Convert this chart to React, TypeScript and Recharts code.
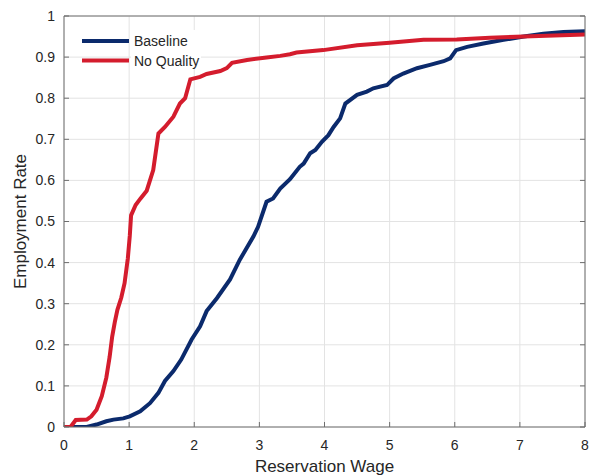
import React from 'react';
import { LineChart, Line, XAxis, YAxis, CartesianGrid } from 'recharts';

const baselineX = [0, 0.35, 0.5, 0.65, 0.76, 0.91, 1.01, 1.17, 1.32, 1.45, 1.55, 1.68, 1.8, 1.96, 2.09, 2.19, 2.35, 2.55, 2.7, 2.91, 2.98, 3.11, 3.21, 3.32, 3.47, 3.62, 3.68, 3.78, 3.86, 3.96, 4.06, 4.14, 4.24, 4.32, 4.5, 4.65, 4.75, 4.96, 5.06, 5.21, 5.42, 5.62, 5.83, 5.93, 6.02, 6.19, 6.44, 6.75, 7.06, 7.36, 7.67, 8];
const baselineY = [0, 0, 0.006, 0.014, 0.018, 0.021, 0.026, 0.038, 0.058, 0.083, 0.112, 0.136, 0.164, 0.213, 0.245, 0.282, 0.314, 0.359, 0.407, 0.464, 0.487, 0.548, 0.556, 0.58, 0.603, 0.633, 0.641, 0.666, 0.674, 0.694, 0.71, 0.73, 0.751, 0.787, 0.808, 0.816, 0.824, 0.832, 0.848, 0.86, 0.873, 0.881, 0.89, 0.897, 0.917, 0.925, 0.933, 0.942, 0.95, 0.957, 0.961, 0.963];

const noQualityX = [0, 0.1, 0.18, 0.35, 0.42, 0.5, 0.58, 0.65, 0.7, 0.74, 0.78, 0.82, 0.88, 0.93, 0.98, 1.01, 1.03, 1.1, 1.17, 1.27, 1.37, 1.45, 1.55, 1.68, 1.78, 1.86, 1.94, 2.09, 2.19, 2.4, 2.5, 2.58, 2.81, 3.11, 3.32, 3.47, 3.57, 3.98, 4.5, 5.0, 5.52, 6.03, 6.54, 7.06, 8];
const noQualityY = [0, 0, 0.017, 0.018, 0.026, 0.042, 0.075, 0.12, 0.17, 0.22, 0.255, 0.285, 0.315, 0.35, 0.41, 0.465, 0.515, 0.54, 0.555, 0.575, 0.625, 0.714, 0.73, 0.755, 0.787, 0.8, 0.846, 0.852, 0.859, 0.866, 0.873, 0.886, 0.893, 0.899, 0.903, 0.907, 0.911, 0.917, 0.929, 0.935, 0.942, 0.943, 0.947, 0.95, 0.955];

const xTicks = [0, 1, 2, 3, 4, 5, 6, 7, 8];
const yTicks = [0, 0.1, 0.2, 0.3, 0.4, 0.5, 0.6, 0.7, 0.8, 0.9, 1];
const seriesNames = ['Baseline', 'No Quality'];

const baselineData = baselineX.map((x, i) => ({ x, y: baselineY[i] }));
const noQualityData = noQualityX.map((x, i) => ({ x, y: noQualityY[i] }));

const BLUE = '#0b2a6c';
const RED = '#d41c2d';
const AXIS = '#6e6e6e';
const TEXT = '#262626';
const FONT = '"Liberation Sans", Arial, Helvetica, sans-serif';

const LegendBox = () => (
  <svg width={130} height={40} style={{ display: 'block' }}>
    <rect x={49} y={0} width={70} height={38} fill="#fff" />
    <line x1={0} y1={11} x2={47} y2={11} stroke={BLUE} strokeWidth={4} />
    <text x={52} y={16} fontSize={14} fill={TEXT} fontFamily={FONT}>{seriesNames[0]}</text>
    <line x1={0} y1={30.5} x2={47} y2={30.5} stroke={RED} strokeWidth={4} />
    <text x={52} y={35.5} fontSize={14} fill={TEXT} fontFamily={FONT}>{seriesNames[1]}</text>
  </svg>
);

export default function App() {
  const tickStyle = { fontSize: 14, fill: TEXT, fontFamily: FONT };
  return (
    <div style={{ position: 'absolute', left: 0, top: 0, width: 590, height: 476, background: '#fff' }}>
      <LineChart width={590} height={476} margin={{ top: 0, right: 0, bottom: 0, left: 0 }}>
        <CartesianGrid stroke="#e3e3e3" strokeWidth={1} xAxisId="x" yAxisId="y" horizontalValues={yTicks} verticalValues={xTicks} />
        <XAxis
          xAxisId="x"
          dataKey="x"
          type="number"
          domain={[0, 8]}
          ticks={xTicks}
          height={49}
          allowDataOverflow
          stroke={AXIS}
          tickSize={-5}
          tickMargin={18}
          tick={tickStyle}
          label={{ value: 'Reservation Wage', position: 'insideBottom', offset: 4, style: { fontSize: 17, fill: TEXT, fontFamily: FONT } }}
        />
        <XAxis
          xAxisId="top"
          orientation="top"
          type="number"
          domain={[0, 8]}
          ticks={xTicks}
          height={16}
          allowDataOverflow
          stroke={AXIS}
          tickSize={-5}
          tickFormatter={() => ''}
        />
        <YAxis
          yAxisId="y"
          dataKey="y"
          type="number"
          domain={[0, 1]}
          ticks={yTicks}
          width={64}
          allowDataOverflow
          stroke={AXIS}
          tickSize={-5}
          tickMargin={14}
          tick={tickStyle}
          label={{ value: 'Employment Rate', angle: -90, position: 'insideLeft', offset: 20, style: { fontSize: 17, fill: TEXT, fontFamily: FONT, textAnchor: 'middle' } }}
        />
        <YAxis
          yAxisId="right"
          orientation="right"
          type="number"
          domain={[0, 1]}
          ticks={yTicks}
          width={5}
          allowDataOverflow
          stroke={AXIS}
          tickSize={-5}
          tickFormatter={() => ''}
        />
        <Line
          xAxisId="x"
          yAxisId="y"
          data={baselineData}
          dataKey="y"
          name={seriesNames[0]}
          type="linear"
          stroke={BLUE}
          strokeWidth={4}
          dot={false}
          isAnimationActive={false}
        />
        <Line
          xAxisId="x"
          yAxisId="y"
          data={noQualityData}
          dataKey="y"
          name={seriesNames[1]}
          type="linear"
          stroke={RED}
          strokeWidth={4}
          dot={false}
          isAnimationActive={false}
        />
      </LineChart>
      <div style={{ position: 'absolute', left: 82, top: 30, width: 130, height: 40 }}>
        <LegendBox />
      </div>
    </div>
  );
}
